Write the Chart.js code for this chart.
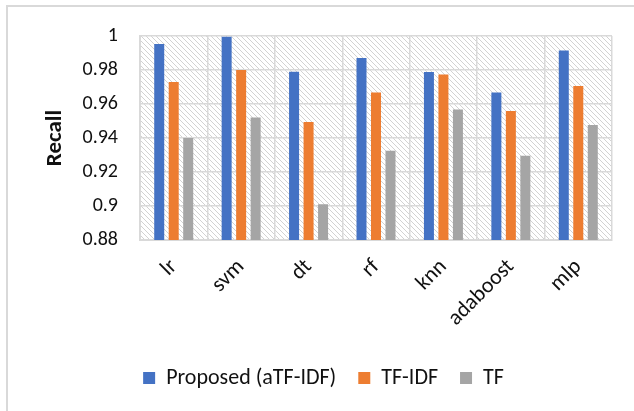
<!DOCTYPE html>
<html>
<head>
<meta charset="utf-8">
<script src="https://cdn.jsdelivr.net/npm/chart.js@4/dist/chart.umd.min.js"></script>
<style>
	html, body { margin: 0; padding: 0; background: #fff; }
	#wrap { position: absolute; left: 0; top: 0; width: 634px; height: 411px; }
	#frame { position: absolute; left: 6px; top: 5px; right: 0; bottom: 0; border-left: 2px solid #d9d9d9; border-top: 2px solid #d9d9d9; }
	canvas { position: absolute; left: 0; top: 0; }
</style>
</head>
<body>
<div id="wrap">
	<div id="frame"></div>
	<canvas id="recallChart" width="634" height="411"></canvas>
</div>
<script>
const categories = ['lr', 'svm', 'dt', 'rf', 'knn', 'adaboost', 'mlp']
const proposed = [0.9953, 0.9996, 0.979, 0.987, 0.9788, 0.9667, 0.9914]
const tfidf = [0.9729, 0.980, 0.9494, 0.9667, 0.9773, 0.9559, 0.9706]
const tf = [0.940, 0.952, 0.901, 0.9325, 0.9567, 0.9296, 0.9476]

const FONT = 'Carlito, Calibri, Lato, sans-serif'

// fond hachuré derrière les barres
const hatch = (() => {
	const c = document.createElement('canvas')
	c.width = 5
	c.height = 5
	const g = c.getContext('2d')
	g.strokeStyle = '#d2d2d2'
	g.lineWidth = 1
	g.beginPath()
	g.moveTo(0, 0)
	g.lineTo(5, 5)
	g.moveTo(-1, 4)
	g.lineTo(1, 6)
	g.moveTo(4, -1)
	g.lineTo(6, 1)
	g.stroke()
	return g.createPattern(c, 'repeat')
})()

const hatchPlugin = {
	id: 'hatchBg',
	beforeDraw(chart) {
		const { ctx, chartArea: a } = chart
		ctx.save()
		ctx.fillStyle = hatch
		ctx.fillRect(a.left, a.top, a.right - a.left, a.bottom - a.top)
		ctx.restore()
	},
}

const ctx = document.getElementById('recallChart').getContext('2d')
const myChart = new Chart(ctx, {
	type: 'bar',
	data: {
		labels: categories,
		datasets: [
			{ label: 'Proposed (aTF-IDF)', data: proposed, backgroundColor: '#4472C4' },
			{ label: 'TF-IDF', data: tfidf, backgroundColor: '#ED7D31' },
			{ label: 'TF', data: tf, backgroundColor: '#A5A5A5' },
		],
	},
	options: {
		responsive: false,
		animation: false,
		devicePixelRatio: 1,
		categoryPercentage: 0.645,
		barPercentage: 0.69,
		layout: {
			padding: { left: 35, right: 22, top: 36, bottom: 12 },
		},
		plugins: {
			tooltip: { enabled: false },
			legend: {
				position: 'bottom',
				labels: {
					boxWidth: 12,
					boxHeight: 12,
					padding: 22,
					color: '#111',
					font: { family: FONT, size: 22 },
				},
			},
		},
		scales: {
			x: {
				grid: { color: '#d9d9d9', lineWidth: 1.5, drawTicks: false },
				border: { color: '#d9d9d9', width: 2 },
				ticks: {
					color: '#111',
					font: { family: FONT, size: 22 },
					minRotation: 45,
					maxRotation: 45,
					padding: 14,
				},
				afterFit: scale => {
					scale.height = 105
				},
			},
			y: {
				min: 0.88,
				max: 1,
				grid: { color: '#d9d9d9', lineWidth: 1.5, drawTicks: false },
				border: { color: '#d9d9d9', width: 2 },
				ticks: {
					stepSize: 0.02,
					color: '#111',
					padding: 22,
					font: { family: FONT, size: 20 },
					callback: v => String(+v.toFixed(2)),
				},
				title: {
					display: true,
					text: 'Recall',
					color: '#111',
					font: { family: FONT, size: 23, weight: 'bold' },
					padding: { top: 6, bottom: 0 },
				},
				afterFit: scale => {
					scale.width = 105
				},
			},
		},
	},
	plugins: [hatchPlugin],
})
</script>
</body>
</html>
